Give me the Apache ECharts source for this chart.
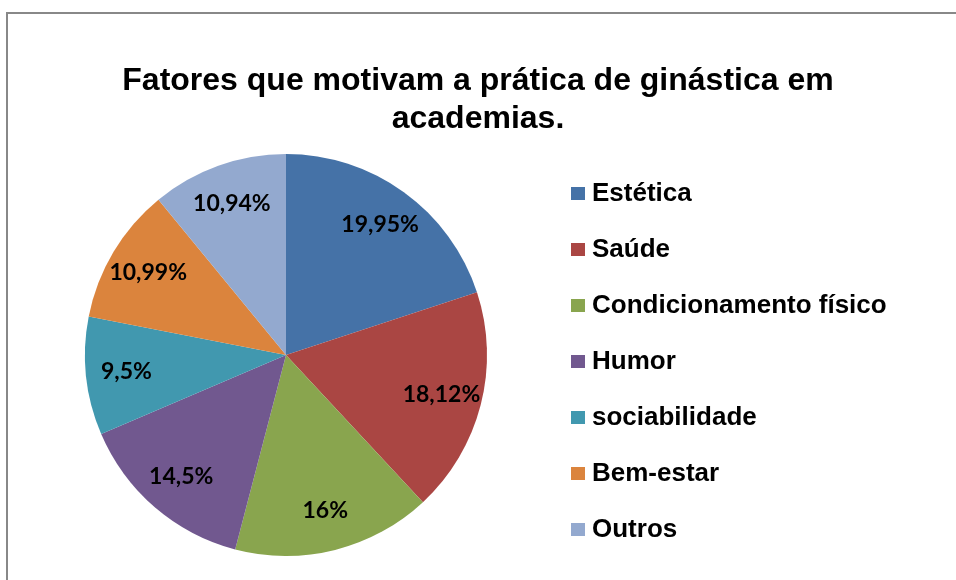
<!DOCTYPE html>
<html>
<head>
<meta charset="utf-8">
<script src="https://cdn.jsdelivr.net/npm/echarts@6/dist/echarts.min.js"></script>
<style>
  html, body { margin: 0; padding: 0; background: #fff; }
  #chart { width: 956px; height: 580px; }
</style>
</head>
<body>
<div id="chart"></div>
<script>
// dados do gráfico
const categorias = ['Estética', 'Saúde', 'Condicionamento físico', 'Humor', 'sociabilidade', 'Bem-estar', 'Outros']
const valores = [19.95, 18.12, 16, 14.5, 9.5, 10.99, 10.94]
const rotulos = ['19,95%', '18,12%', '16%', '14,5%', '9,5%', '10,99%', '10,94%']
const cores = ['#4572A7', '#AA4643', '#89A54E', '#71588F', '#4198AF', '#DB843D', '#93A9CF']

const dados = categorias.map((nome, i) => ({ name: nome, value: valores[i] }))

const myEchart = echarts.init(document.querySelector('#chart'))
myEchart.setOption({
  animation: false,
  color: cores,
  title: {
    text: 'Fatores que motivam a prática de ginástica em\nacademias.',
    left: 'center',
    top: 57,
    textStyle: {
      fontFamily: 'Liberation Sans',
      fontWeight: 'bold',
      fontSize: 32,
      lineHeight: 38,
      color: '#000',
    },
  },
  // moldura cinza
  graphic: [
    {
      type: 'rect',
      shape: { x: 7, y: 13, width: 1000, height: 1000 },
      style: { fill: 'none', stroke: '#888', lineWidth: 2 },
      silent: true,
    },
  ],
  legend: {
    orient: 'vertical',
    left: 566,
    top: 175,
    data: categorias,
    icon: 'rect',
    itemWidth: 14,
    itemHeight: 13,
    itemGap: 29,
    textStyle: {
      fontFamily: 'Liberation Sans',
      fontWeight: 'bold',
      fontSize: 26,
      lineHeight: 27,
      color: '#000',
      padding: [0, 0, 0, 2],
    },
  },
  series: [
    {
      name: 'Fatores',
      type: 'pie',
      center: [286, 355],
      radius: [0, 201],
      startAngle: 90,
      clockwise: true,
      label: { show: false },
      labelLine: { show: false },
      itemStyle: { borderWidth: 0 },
      emphasis: { disabled: true },
      data: dados,
    },
    {
      // série transparente só para posicionar os rótulos
      name: 'Rótulos',
      type: 'pie',
      center: [286, 355],
      radius: [114, 201],
      startAngle: 90,
      clockwise: true,
      silent: true,
      itemStyle: { color: 'transparent' },
      labelLine: { show: false },
      label: {
        show: true,
        position: 'inside',
        formatter: (p) => rotulos[p.dataIndex],
        fontFamily: 'Lato',
        fontWeight: 'bold',
        fontSize: 23,
        color: '#000',
      },
      emphasis: { disabled: true },
      data: dados,
    },
  ],
})
</script>
</body>
</html>
